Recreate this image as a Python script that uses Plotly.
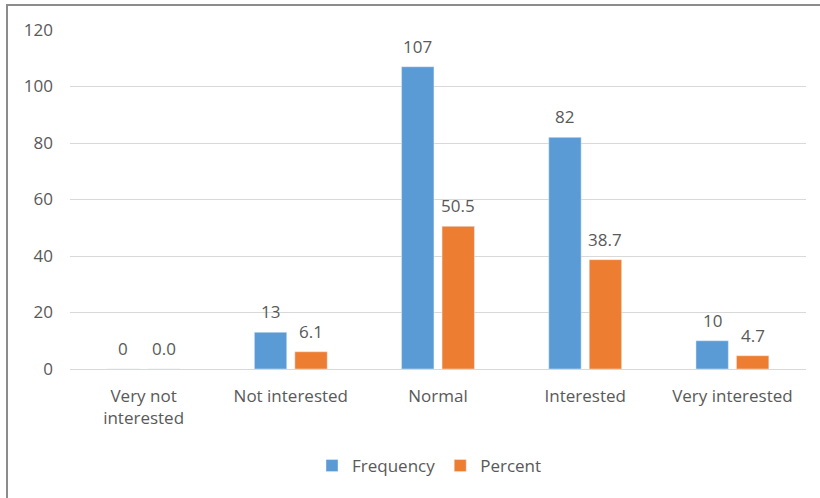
import plotly.graph_objects as go

categories = ["Very not<br>interested", "Not interested", "Normal", "Interested", "Very interested"]
frequency = [0, 13, 107, 82, 10]
percent = [0.0, 6.1, 50.5, 38.7, 4.7]
y_ticks = [0, 20, 40, 60, 80, 100, 120]

W, H = 820, 498
ML, MR, MT, MB = 70, 14, 30, 129
BARGAP, GROUPGAP = 0.45, 0.2

font_family = "Open Sans, Lato, sans-serif"
text_color = "#595959"
fs = 17

fig = go.Figure()
fig.add_trace(go.Bar(x=categories, y=frequency, name="Frequency", marker_color="#5B9BD5"))
fig.add_trace(go.Bar(x=categories, y=percent, name="Percent", marker_color="#ED7D31"))

pw = W - ML - MR
ph = H - MT - MB

# value labels above each bar, offset to the bar's slot within its group
slot_px = pw / len(categories) * (1 - BARGAP) / 2
for series, fmt, side in ((frequency, "{:d}", -1), (percent, "{:.1f}", 1)):
    for cat, v in zip(categories, series):
        fig.add_annotation(x=cat, y=v, text=fmt.format(v), showarrow=False,
                           xshift=side * slot_px / 2, yshift=7, yanchor="bottom",
                           font=dict(size=fs, color=text_color))

# outer frame (open at right and bottom)
fig.add_shape(type="rect", xref="paper", yref="paper",
              x0=(7 - ML) / pw, x1=(W + 10 - ML) / pw,
              y0=-(MB + 10) / ph, y1=(H - 5 - MB) / ph,
              line=dict(color="#8C8C8C", width=2), fillcolor="rgba(0,0,0,0)", layer="below")

fig.update_layout(
    width=W, height=H,
    margin=dict(l=ML, r=MR, t=MT, b=MB),
    paper_bgcolor="white", plot_bgcolor="white",
    barmode="group", bargap=BARGAP, bargroupgap=GROUPGAP,
    font=dict(family=font_family, size=fs, color=text_color),
    showlegend=True,
    legend=dict(orientation="h", x=(312 - ML) / pw, xanchor="left", y=-(466 - 369) / ph, yanchor="middle",
                font=dict(size=fs, color=text_color), itemwidth=30, traceorder="normal"),
    xaxis=dict(showgrid=False, showline=False, ticks="", ticklabelstandoff=15,
               tickfont=dict(size=fs, color=text_color)),
    yaxis=dict(range=[0, 120], tickvals=y_ticks, showgrid=True, gridcolor="#D9D9D9", gridwidth=1,
               zeroline=True, zerolinecolor="#D9D9D9", zerolinewidth=1, showline=False,
               ticks="", ticklabelstandoff=16, tickfont=dict(size=fs, color=text_color)),
)

fig.write_html("out.html")
